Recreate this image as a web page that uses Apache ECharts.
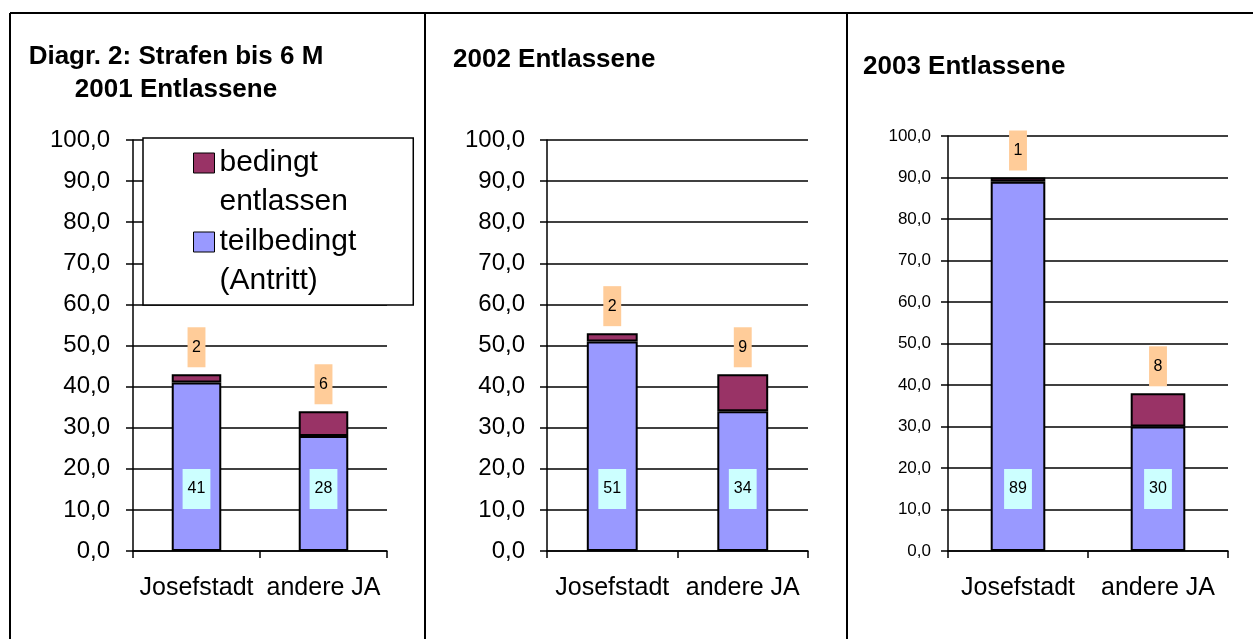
<!DOCTYPE html>
<html lang="de">
<head>
    <meta charset="UTF-8">
    <title>Strafen bis 6 M - Entlassene</title>
    <script src="https://cdn.jsdelivr.net/npm/echarts@6/dist/echarts.min.js"></script>
    <style>
        html, body { margin: 0; padding: 0; background: #fff; }
        #main { width: 1253px; height: 639px; }
    </style>
</head>
<body>
<div id="main"></div>
<script>
    // Daten
    var categories = ['Josefstadt', 'andere JA'];
    var titles = ['Diagr. 2: Strafen bis 6 M\n2001 Entlassene', '2002 Entlassene', '2003 Entlassene'];
    var teilbedingt2001 = [41, 28];
    var bedingt2001 = [2, 6];
    var teilbedingt2002 = [51, 34];
    var bedingt2002 = [2, 9];
    var teilbedingt2003 = [89, 30];
    var bedingt2003 = [1, 8];
    var yMin = 0, yMax = 100, yStep = 10;

    var teilbedingt = [teilbedingt2001, teilbedingt2002, teilbedingt2003];
    var bedingt = [bedingt2001, bedingt2002, bedingt2003];

    var FONT = '"Liberation Sans", Arial, sans-serif';

    // Layout der drei Felder (px)
    var grids = [
        { left: 133, right: 1253 - 387, top: 140, bottom: 639 - 551 },
        { left: 547, right: 1253 - 808, top: 140, bottom: 639 - 551 },
        { left: 948, right: 1253 - 1228, top: 136, bottom: 639 - 551 }
    ];
    var yFont = [24, 24, 17];
    var yMargin = [23, 22, 17];

    var myChart = echarts.init(document.getElementById('main'));

    var xAxes = [], yAxes = [], series = [];
    for (var i = 0; i < 3; i++) {
        xAxes.push({
            type: 'category', gridIndex: i, data: categories,
            axisLine: { lineStyle: { color: '#000', width: 1.5 } },
            axisTick: { show: true, length: 7, lineStyle: { color: '#000', width: 1.5 } },
            axisLabel: { color: '#000', fontFamily: FONT, fontSize: 25, margin: 25, interval: 0, hideOverlap: false }
        });
        yAxes.push({
            type: 'value', gridIndex: i, min: yMin, max: yMax, interval: yStep,
            axisLine: { show: true, lineStyle: { color: '#000', width: 1.5 } },
            axisTick: { show: true, length: 7, lineStyle: { color: '#000', width: 1.5 } },
            splitLine: { lineStyle: { color: '#000', width: 1.5 } },
            axisLabel: {
                color: '#000', fontFamily: FONT, fontSize: yFont[i], margin: yMargin[i],
                formatter: function (v) { return v.toFixed(1).replace('.', ','); }
            }
        });
        series.push({
            name: 'teilbedingt (Antritt)', type: 'bar', stack: 's' + i,
            xAxisIndex: i, yAxisIndex: i, barWidth: '39%',
            data: teilbedingt[i],
            itemStyle: { color: '#9999FF', borderColor: '#000', borderWidth: 2 },
            label: {
                show: true, position: 'insideBottom', distance: 42,
                color: '#000', fontFamily: FONT, fontSize: 16,
                backgroundColor: '#CCFFFF', padding: [12, 5]
            }
        });
        series.push({
            name: 'bedingt entlassen', type: 'bar', stack: 's' + i,
            xAxisIndex: i, yAxisIndex: i, barWidth: '39%',
            data: bedingt[i],
            itemStyle: { color: '#993366', borderColor: '#000', borderWidth: 2 },
            label: {
                show: true, position: 'top', distance: 7,
                color: '#000', fontFamily: FONT, fontSize: 16,
                backgroundColor: '#FFCC99', padding: [12, 4.5]
            }
        });
    }

    var titleStyle = { color: '#000', fontFamily: FONT, fontSize: 26, fontWeight: 'bold', lineHeight: 33 };

    var option = {
        animation: false,
        backgroundColor: '#fff',
        title: [
            { text: titles[0], left: 176, top: 40.5, padding: 0, textAlign: 'center', textStyle: titleStyle },
            { text: titles[1], left: 453, top: 43.5, padding: 0, textStyle: titleStyle },
            { text: titles[2], left: 863, top: 50.5, padding: 0, textStyle: titleStyle }
        ],
        legend: {
            data: ['bedingt entlassen', 'teilbedingt (Antritt)'],
            orient: 'vertical', left: 143, top: 138,
            padding: [5, 57, 4, 50], itemGap: 0,
            itemWidth: 21, itemHeight: 78,
            icon: 'path://M0,0L0,0M0,9.5L21,9.5L21,29.5L0,29.5ZM0,78L0,78',
            itemStyle: { borderColor: '#000', borderWidth: 1 },
            backgroundColor: '#fff', borderColor: '#000', borderWidth: 1.5,
            textStyle: { color: '#000', fontFamily: FONT, fontSize: 30, lineHeight: 39 },
            formatter: function (name) { return name.replace(' ', '\n'); }
        },
        grid: grids,
        xAxis: xAxes,
        yAxis: yAxes,
        series: series,
        graphic: [
            { type: 'line', shape: { x1: 10, y1: 13, x2: 1253, y2: 13 }, style: { stroke: '#000', lineWidth: 2 } },
            { type: 'line', shape: { x1: 10, y1: 13, x2: 10, y2: 639 }, style: { stroke: '#000', lineWidth: 2 } },
            { type: 'line', shape: { x1: 425, y1: 13, x2: 425, y2: 639 }, style: { stroke: '#000', lineWidth: 2 } },
            { type: 'line', shape: { x1: 847, y1: 13, x2: 847, y2: 639 }, style: { stroke: '#000', lineWidth: 2 } }
        ]
    };

    myChart.setOption(option);
</script>
</body>
</html>
